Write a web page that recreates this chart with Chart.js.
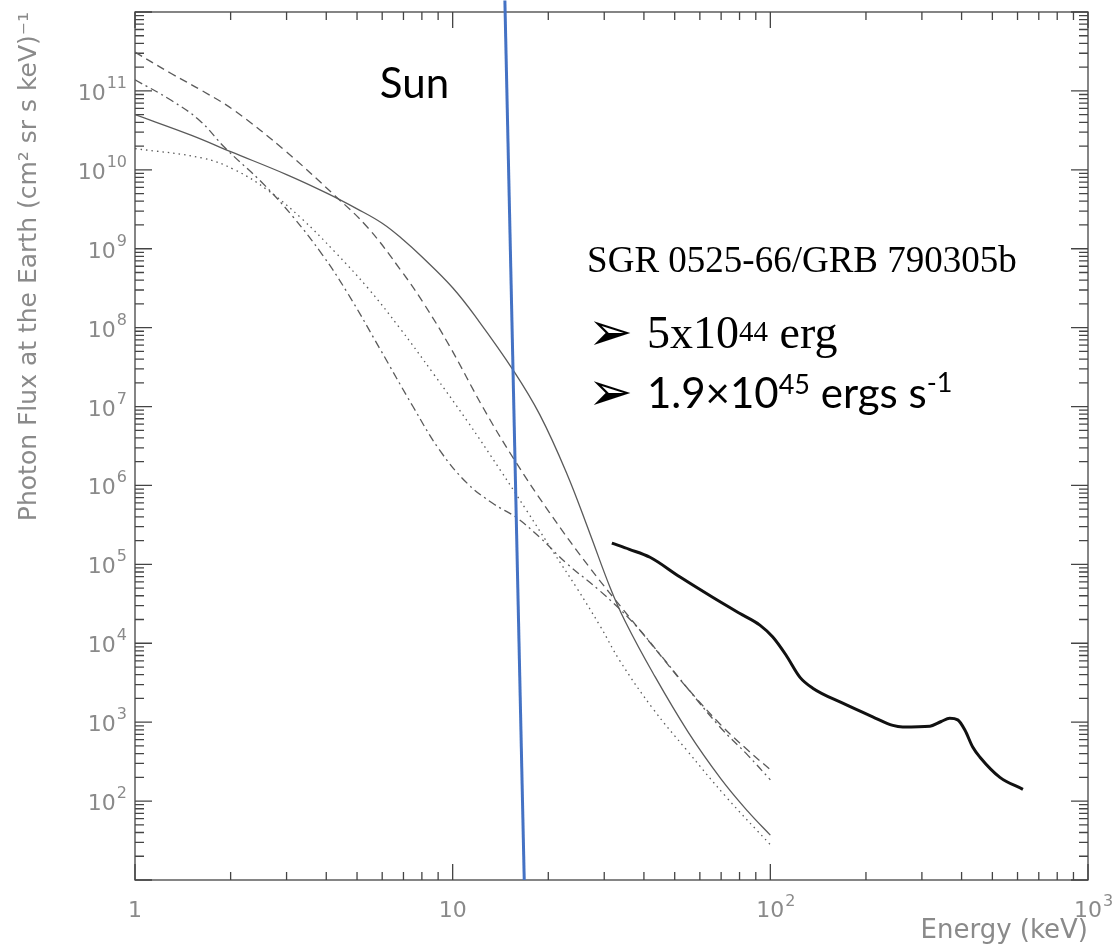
<!DOCTYPE html>
<html>
<head>
<meta charset="utf-8">
<script src="https://cdn.jsdelivr.net/npm/chart.js@4/dist/chart.umd.min.js"></script>
<style>
  html, body { margin: 0; padding: 0; background: #fff; }
</style>
</head>
<body>
<canvas id="spectrum" width="1120" height="947"></canvas>
<script>
// model curves (energy in keV, photon flux at the Earth)
const solidE = [1, 1.5, 2, 3, 4, 5, 6, 7, 8, 10, 12, 15.5, 18.8, 22.9, 27, 31.3, 35, 42.7, 55, 70, 85, 100];
const solidF = [5.0e10, 2.75e10, 1.7e10, 8.7e9, 5.1e9, 3.2e9, 2.1e9, 1.29e9, 7.9e8, 3.2e8, 1.26e8, 2.9e7, 7.9e6, 1.4e6, 2.5e5, 5.1e4, 1.86e4, 4.2e3, 7.6e2, 1.9e2, 74, 37];

const dashedE = [1, 1.3, 1.63, 2.06, 2.97, 4.26, 5.4, 6.9, 8.06, 9.8, 12.5, 15.5, 20.2, 27, 36, 45, 54.6, 69.4, 85, 100];
const dashedF = [3.1e11, 1.66e11, 1.0e11, 5.6e10, 1.74e10, 4.7e9, 1.86e9, 5.2e8, 2.1e8, 5.75e7, 9.5e6, 2.24e6, 4.5e5, 9.1e4, 2.14e4, 7.1e3, 2.75e3, 9.5e2, 4.4e2, 2.5e2];

const dashDotE = [1, 1.3, 1.6, 1.92, 2.51, 3.12, 3.88, 4.68, 5.9, 7.5, 9.1, 11.1, 13.4, 15.9, 18.8, 22.9, 29.1, 37, 45, 54.6, 69.4, 85, 100];
const dashDotF = [1.38e11, 7.6e10, 4.2e10, 1.9e10, 6.9e9, 2.63e9, 8.5e8, 2.7e8, 5.4e7, 1.0e7, 2.8e6, 1.07e6, 5.9e5, 3.9e5, 2.2e5, 1.02e5, 4.6e4, 1.82e4, 7.2e3, 2.75e3, 8.7e2, 3.8e2, 1.86e2];

const dottedE = [1, 1.63, 2.06, 2.62, 3.35, 4.26, 5.4, 6.8, 8.7, 11.1, 14.1, 17.1, 20.7, 24.6, 29.1, 33.6, 42.7, 54.6, 73, 100];
const dottedF = [1.86e10, 1.41e10, 1.0e10, 5.5e9, 2.4e9, 9.1e8, 3.2e8, 1.0e8, 2.6e7, 6.6e6, 1.58e6, 4.8e5, 1.45e5, 5.0e4, 1.66e4, 6.0e3, 1.48e3, 4.4e2, 1.1e2, 28];

// measured spectrum SGR 0525-66 / GRB 790305b
const sgrE = [31.7, 36, 41.8, 52, 66, 80, 92.7, 101.8, 112, 124, 136, 169, 210, 243, 261, 318, 345, 367, 389, 410, 434, 457, 528, 624];
const sgrF = [1.86e5, 1.55e5, 1.23e5, 6.9e4, 3.8e4, 2.4e4, 1.7e4, 1.2e4, 7.1e3, 3.7e3, 2.7e3, 1.74e3, 1.17e3, 9.1e2, 8.7e2, 8.9e2, 1.02e3, 1.12e3, 1.07e3, 7.9e2, 4.8e2, 3.6e2, 2.0e2, 1.41e2];

// the "Sun" line
const sunE = [14.6, 16.8];
const sunF = [1.4e12, 10];

// tick labels: [value, base, exponent]
const xTickLabels = [[1, '1', ''], [10, '10', ''], [100, '10', '2'], [1000, '10', '3']];
const yTickLabels = [[1e2, '10', '2'], [1e3, '10', '3'], [1e4, '10', '4'], [1e5, '10', '5'], [1e6, '10', '6'],
  [1e7, '10', '7'], [1e8, '10', '8'], [1e9, '10', '9'], [1e10, '10', '10'], [1e11, '10', '11']];

const pts = (xs, ys) => xs.map((x, i) => ({ x: x, y: ys[i] }));

// 1..9 x 10^n ticks
function logTicks(min, max) {
  const out = [];
  for (let e = Math.floor(Math.log10(min)); Math.pow(10, e) <= max; e++) {
    for (let m = 1; m < 10; m++) {
      const v = m * Math.pow(10, e);
      if (v >= min * 0.999 && v <= max * 1.001) out.push({ value: v });
    }
  }
  return out;
}
const isDecade = v => Math.abs(Math.log10(v) - Math.round(Math.log10(v))) < 1e-6;

const gray = '#8a8a8a';

const idlAxes = {
  id: 'idlAxes',
  beforeDatasetsDraw(chart) {
    const { ctx, chartArea: a, scales: { x, y } } = chart;
    ctx.save();
    ctx.strokeStyle = '#444';
    ctx.lineWidth = 1.3;
    ctx.strokeRect(a.left, a.top, a.right - a.left, a.bottom - a.top);
    ctx.beginPath();
    x.ticks.forEach(t => {
      const p = x.getPixelForValue(t.value);
      const len = isDecade(t.value) ? 16 : 8;
      ctx.moveTo(p, a.bottom); ctx.lineTo(p, a.bottom - len);
      ctx.moveTo(p, a.top); ctx.lineTo(p, a.top + len);
    });
    y.ticks.forEach(t => {
      const p = y.getPixelForValue(t.value);
      const len = isDecade(t.value) ? 17 : 9;
      ctx.moveTo(a.left, p); ctx.lineTo(a.left + len, p);
      ctx.moveTo(a.right, p); ctx.lineTo(a.right - len, p);
    });
    ctx.stroke();
    ctx.restore();
  },
  afterDraw(chart) {
    const { ctx, chartArea: a, scales: { x, y } } = chart;
    ctx.save();
    ctx.fillStyle = gray;
    ctx.textBaseline = 'alphabetic';

    // y tick labels
    yTickLabels.forEach(([v, base, ex]) => {
      const p = y.getPixelForValue(v);
      ctx.font = '16px "DejaVu Sans"';
      const supW = ctx.measureText(ex).width;
      ctx.textAlign = 'right';
      ctx.fillText(ex, a.left - 8, p - 3);
      ctx.font = '22px "DejaVu Sans"';
      ctx.fillText(base, a.left - 9 - supW, p + 9);
    });

    // x tick labels
    xTickLabels.forEach(([v, base, ex]) => {
      const p = x.getPixelForValue(v);
      ctx.font = '22px "DejaVu Sans"';
      const w = ctx.measureText(base).width;
      ctx.textAlign = 'center';
      ctx.fillText(base, p, a.bottom + 37);
      if (ex) {
        ctx.font = '16px "DejaVu Sans"';
        ctx.textAlign = 'left';
        ctx.fillText(ex, p + w / 2 + 1, a.bottom + 26);
      }
    });

    // annotations
    ctx.fillStyle = '#000';
    ctx.textAlign = 'left';
    ctx.font = '42px Lato';
    ctx.fillText('Sun', x.getPixelForValue(5.9), y.getPixelForValue(8.15e10));

    ctx.font = '37px "Liberation Serif"';
    ctx.fillText('SGR 0525-66/GRB 790305b', x.getPixelForValue(26.5), y.getPixelForValue(5.1e8));

    const bx = x.getPixelForValue(26.6);
    const tx = x.getPixelForValue(40.9);
    const b1 = y.getPixelForValue(5.6e7);
    const b2 = y.getPixelForValue(9.7e6);
    ctx.font = '54px "DejaVu Sans"';
    ctx.fillText('\u27A2', bx, b1 + 2);
    ctx.fillText('\u27A2', bx, b2 + 2);

    let cx = tx;
    const run = (txt, font, dy) => {
      ctx.font = font;
      ctx.fillText(txt, cx, dy);
      cx += ctx.measureText(txt).width;
    };
    run('5x10', '46px "Liberation Serif"', b1);
    run('44', '29px "Liberation Serif"', b1 - 7);
    run(' erg', '46px "Liberation Serif"', b1);

    cx = tx;
    run('1.9\u00D710', '42px Lato', b2);
    run('45', '27px Lato', b2 - 14);
    run(' ergs s', '42px Lato', b2);
    run('-1', '27px Lato', b2 - 16);
    ctx.restore();
  }
};

const thin = { pointRadius: 0, borderWidth: 1.3, borderColor: '#5a5a5a', fill: false, tension: 0.4 };

new Chart(document.getElementById('spectrum'), {
  type: 'line',
  data: {
    datasets: [
      { label: 'Sun', data: pts(sunE, sunF), borderColor: '#4472C4', borderWidth: 3, pointRadius: 0,
        clip: { left: 0, top: false, right: 0, bottom: 0 } },
      { label: 'SGR 0525-66', data: pts(sgrE, sgrF), borderColor: '#111', borderWidth: 3, pointRadius: 0,
        cubicInterpolationMode: 'monotone' },
      Object.assign({ label: 'solid', data: pts(solidE, solidF) }, thin),
      Object.assign({ label: 'dashed', data: pts(dashedE, dashedF), borderDash: [8, 5] }, thin),
      Object.assign({ label: 'dash-dot', data: pts(dashDotE, dashDotF), borderDash: [8, 4, 2, 4] }, thin),
      Object.assign({ label: 'dotted', data: pts(dottedE, dottedF), borderDash: [1.5, 4] }, thin)
    ]
  },
  options: {
    responsive: false,
    animation: false,
    layout: { padding: { left: 0, top: 12, right: 32, bottom: 0 } },
    plugins: { legend: { display: false }, tooltip: { enabled: false } },
    scales: {
      x: {
        type: 'logarithmic', min: 1, max: 1000,
        grid: { display: false }, border: { display: false },
        ticks: { display: false },
        afterBuildTicks: s => { s.ticks = logTicks(s.min, s.max); },
        afterFit: s => { s.height = 67; },
        title: { display: true, text: 'Energy (keV)', align: 'end', color: gray,
          font: { family: 'DejaVu Sans', size: 26 }, padding: { top: 0, bottom: 0 } }
      },
      y: {
        type: 'logarithmic', min: 10, max: 1e12,
        grid: { display: false }, border: { display: false },
        ticks: { display: false },
        afterBuildTicks: s => { s.ticks = logTicks(s.min, s.max); },
        afterFit: s => { s.width = 135; },
        title: { display: true, text: 'Photon Flux at the Earth (cm\u00B2 sr s keV)\u207B\u00B9', align: 'end', color: gray,
          font: { family: 'DejaVu Sans', size: 25 }, padding: { top: 14, bottom: 0 } }
      }
    }
  },
  plugins: [idlAxes]
});
</script>
</body>
</html>
